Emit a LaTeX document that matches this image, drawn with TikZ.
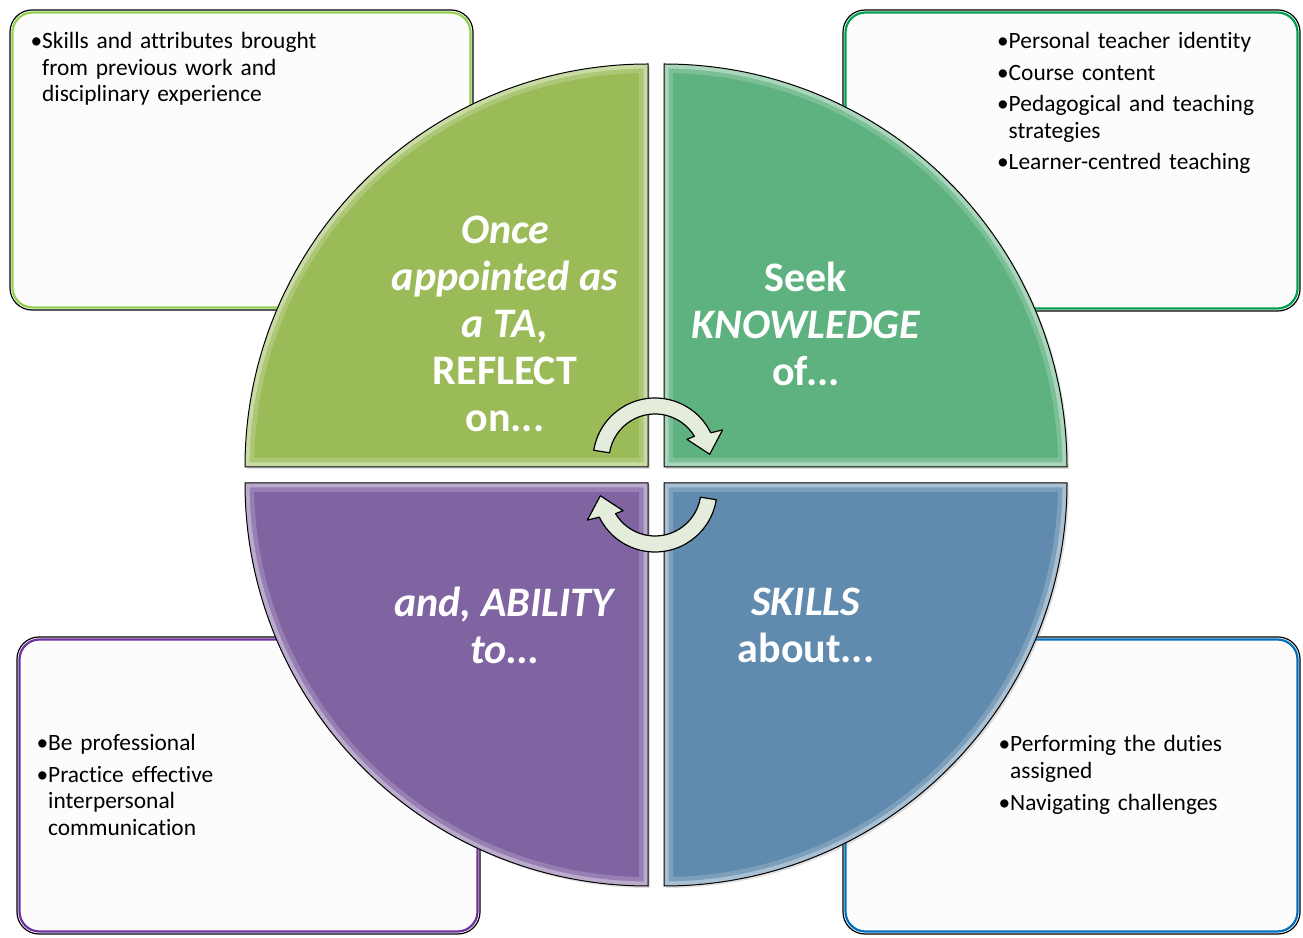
\documentclass[tikz,border=0pt]{standalone}
\usepackage{fontspec}
\setmainfont{Carlito}[Ligatures=NoCommon]
\usetikzlibrary{shadows}
\definecolor{qGreen}{RGB}{155,187,89}
\definecolor{qTeal}{RGB}{94,178,128}
\definecolor{qPurple}{RGB}{128,100,162}
\definecolor{qBlue}{RGB}{96,139,174}
\definecolor{bGreen}{RGB}{146,208,80}
\definecolor{bTeal}{RGB}{0,160,80}
\definecolor{bPurple}{RGB}{112,48,160}
\definecolor{bBlue}{RGB}{0,112,192}
\definecolor{arrowFill}{RGB}{228,236,219}
\newcommand{\bitem}[1]{\hangindent=11.5pt\hangafter=1\noindent\makebox[11.5pt][l]{\textbullet}#1\par}

\begin{document}
\begin{tikzpicture}[x=1pt, y=1pt,
    quadtext/.style={text=white, align=center, font=\fontsize{42}{47}\selectfont\bfseries},
    listtext/.style={anchor=base west, inner sep=0pt, text width=#1, align=left,
        font=\fontsize{23.4}{26.5}\selectfont, execute at begin node={\setlength{\parskip}{5pt}}}]
    \useasboundingbox[fill=white] (0,0) rectangle (1303,937);

    % Corner boxes (behind the circle)
    \foreach \xa/\ya/\xb/\yb/\col in {10/627/473/927/bGreen, 843/626/1300/927/bTeal,
                                      17/3/480/300/bPurple, 843/3/1300/300/bBlue} {
        \draw[fill=white!99!black, line width=1.2pt, rounded corners=22pt] (\xa,\ya) rectangle (\xb,\yb);
        \draw[\col, line width=2.2pt, rounded corners=20pt] (\xa+2.5,\ya+2.5) rectangle (\xb-2.5,\yb-2.5);
    }

    % Four quarters of the circle
    \foreach \cx/\cy/\sa/\col in {648/470/90/qGreen, 664/470/0/qTeal, 648/454/180/qPurple, 664/454/270/qBlue} {
        \def\qpath{(\cx,\cy) -- ++(\sa:403) arc[start angle=\sa, delta angle=90, radius=403] -- cycle}
        \fill[\col, drop shadow={opacity=.25, shadow xshift=2pt, shadow yshift=-2pt}] \qpath;
        \begin{scope}
            \clip \qpath;
            \draw[white, opacity=.18, line width=18pt] \qpath;
            \draw[white, opacity=.35, line width=9pt] \qpath;
        \end{scope}
        \draw[black, line width=1pt] \qpath;
    }

    % Turning arrows in the middle
    \foreach \ay/\rot in {477/0, 447/180} {
        \begin{scope}[shift={(655,\ay)}, rotate=\rot]
            \draw[fill=arrowFill, line width=1.2pt, line join=round]
                (171:62) arc[start angle=171, end angle=26, radius=62]
                -- (24:74) -- (6:55) -- (33:38) -- (31:46)
                arc[start angle=31, end angle=171, radius=46] -- cycle;
        \end{scope}
    }

    % Texts in the quarters
    \node[quadtext] (reflect) at (505,613.5) {\textit{Once}\\\textit{appointed as}\\\textit{a TA,}\\REFLECT\\on...};
    \node[quadtext] (knowledge) at (806,613.5) {Seek\\\textit{KNOWLEDGE}\\of...};
    \node[quadtext] (ability) at (505,311.5) {\textit{and, ABILITY}\\\textit{to...}};
    \node[quadtext] (skills) at (806,311.5) {\textit{SKILLS}\\about...};

    % Lists in the boxes
    \node[listtext=330pt] (priorList) at (30.5,888) {%
        \bitem{Skills and attributes brought\newline from previous work and\newline disciplinary experience}};
    \node[listtext=290pt] (knowList) at (997,888) {%
        \bitem{Personal teacher identity}\bitem{Course content}%
        \bitem{Pedagogical and teaching\newline strategies}\bitem{Learner-centred teaching}};
    \node[listtext=240pt] (abilityList) at (36.5,186) {%
        \bitem{Be professional}\bitem{Practice effective\newline interpersonal\newline communication}};
    \node[listtext=270pt] (skillsList) at (998.5,185) {%
        \bitem{Performing the duties\newline assigned}\bitem{Navigating challenges}};
\end{tikzpicture}
\end{document}
